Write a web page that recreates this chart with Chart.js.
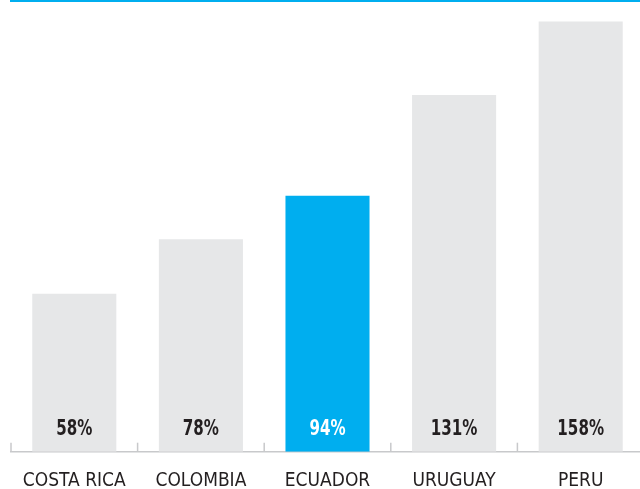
<!DOCTYPE html>
<html>
<head>
<meta charset="utf-8">
<script src="https://cdn.jsdelivr.net/npm/chart.js@4/dist/chart.umd.min.js"></script>
<style>
  html, body { margin: 0; padding: 0; background: #ffffff; overflow: hidden; }
  #wrap { position: relative; width: 640px; height: 489px; overflow: hidden; }
  #topline { position: absolute; left: 10px; top: 0; width: 640px; height: 2px; background: #00aeef; }
  #box { position: absolute; left: 0; top: 0; width: 660px; height: 489px; }
</style>
</head>
<body>
<div id="wrap">
  <div id="box"><canvas id="c" width="660" height="489"></canvas></div>
  <div id="topline"></div>
</div>
<script>
const categories = ["COSTA RICA", "COLOMBIA", "ECUADOR", "URUGUAY", "PERU"];
const values = [58, 78, 94, 131, 158];
const valueLabels = ["58%", "78%", "94%", "131%", "158%"];
const highlight = "ECUADOR";

const GRAY = "#e6e7e8";
const BLUE = "#00aeef";
const TEXT = "#231f20";
const FONT = "'DejaVu Sans Condensed', 'Liberation Sans Narrow', sans-serif";

const tickPlugin = {
  id: "axisTicks",
  afterDraw(chart) {
    const xs = chart.scales.x;
    const ctx = chart.ctx;
    const n = categories.length;
    const bottom = chart.chartArea.bottom;
    ctx.save();
    ctx.strokeStyle = "#c8c9cb";
    ctx.lineWidth = 1.5;
    for (let i = 0; i <= n; i++) {
      const x = xs.left + i * (xs.right - xs.left) / n;
      ctx.beginPath();
      ctx.moveTo(x, bottom - 9);
      ctx.lineTo(x, bottom);
      ctx.stroke();
    }
    ctx.restore();
  }
};

const valueLabelPlugin = {
  id: "valueLabels",
  afterDatasetsDraw(chart) {
    const ctx = chart.ctx;
    const meta = chart.getDatasetMeta(0);
    const ys = chart.scales.y;
    const base = ys.getPixelForValue(0);
    meta.data.forEach((bar, i) => {
      ctx.save();
      ctx.font = "bold 21px " + FONT;
      ctx.textAlign = "center";
      ctx.textBaseline = "middle";
      ctx.fillStyle = categories[i] === highlight ? "#ffffff" : TEXT;
      ctx.translate(bar.x, base - 22.5);
      ctx.scale(0.8, 1);
      ctx.fillText(valueLabels[i], 0, 0);
      ctx.restore();
    });
  }
};

new Chart(document.getElementById("c"), {
  type: "bar",
  data: {
    labels: categories,
    datasets: [{
      data: values,
      backgroundColor: categories.map(c => c === highlight ? BLUE : GRAY),
      borderWidth: 0,
      barPercentage: 0.664,
      categoryPercentage: 1.0
    }]
  },
  options: {
    responsive: false,
    animation: false,
    devicePixelRatio: 1,
    layout: { padding: { left: 11, right: 16, top: 16, bottom: 0 } },
    plugins: { legend: { display: false }, tooltip: { enabled: false } },
    scales: {
      x: {
        grid: { display: false },
        border: { display: true, color: "#c8c9cb", width: 1.5 },
        afterFit(scale) { scale.height = 37.3; },
        ticks: {
          color: TEXT,
          font: { family: FONT, size: 19, lineHeight: 1 },
          padding: 12,
          maxRotation: 0
        }
      },
      y: {
        display: false,
        min: 0,
        max: 160
      }
    }
  },
  plugins: [tickPlugin, valueLabelPlugin]
});
</script>
</body>
</html>
